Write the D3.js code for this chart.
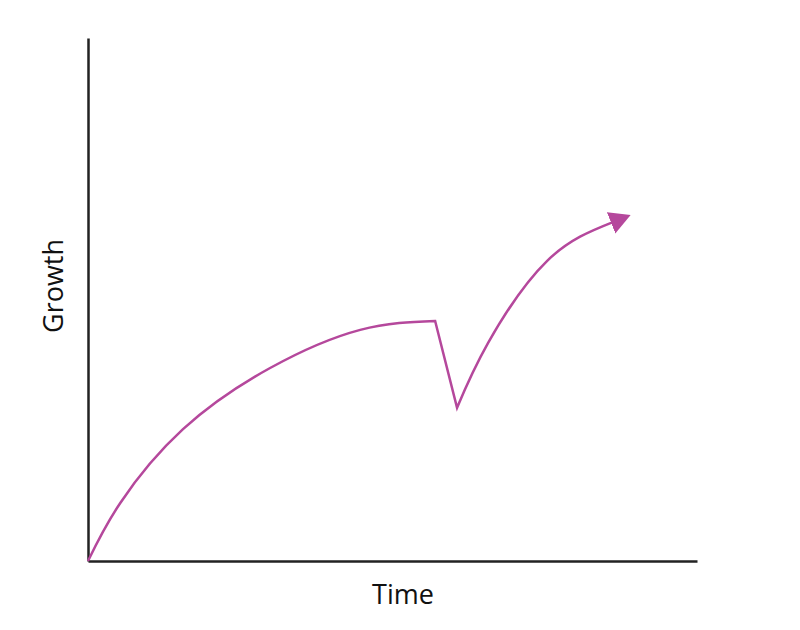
<!DOCTYPE html>
<html>
<head>
<meta charset="utf-8">
<script src="https://cdn.jsdelivr.net/npm/d3@7"></script>
<style>
  html, body { margin: 0; padding: 0; background: #fff; }
  svg { display: block; }
</style>
</head>
<body>
<svg id="chart" width="800" height="630"></svg>
<script>
// Data (time, growth), arbitrary units 0..100
const time   = [0, 5.3, 15.6, 29.9, 44.7, 57.0, 60.6, 65.7, 75.4, 86.2];
const growth = [0, 11.1, 25.2, 36.9, 44.2, 45.9, 29.3, 41.7, 57.4, 64.8];
// indices where the curve has sharp corners (peak, trough)
const corners = [5, 6];
const xLabel = "Time";
const yLabel = "Growth";

const svg = d3.select("#chart");
const x = d3.scaleLinear().domain([0, 100]).range([88, 697]);
const y = d3.scaleLinear().domain([0, 100]).range([561, 38]);

const pts = time.map((t, i) => [t, growth[i]]);
const seg1 = pts.slice(0, corners[0] + 1);
const seg2 = pts.slice(corners[0], corners[1] + 1);
const seg3 = pts.slice(corners[1]);

const smooth = d3.line().x(d => x(d[0])).y(d => y(d[1])).curve(d3.curveNatural);
const straight = d3.line().x(d => x(d[0])).y(d => y(d[1]));

const color = "#b5489c";

svg.append("defs").append("marker")
  .attr("id", "arrow")
  .attr("markerUnits", "userSpaceOnUse")
  .attr("viewBox", "0 -12 22 24")
  .attr("refX", 2).attr("refY", 0)
  .attr("markerWidth", 22).attr("markerHeight", 24)
  .attr("orient", "auto")
  .append("path")
  .attr("d", "M0,-11.5L21,0L0,11.5Z")
  .attr("fill", color);

// axes (no ticks)
const xAxis = d3.axisBottom(x).tickValues([]).tickSizeOuter(0);
const yAxis = d3.axisLeft(y).tickValues([]).tickSizeOuter(0);
svg.append("g").attr("transform", `translate(0,${y(0)})`).call(xAxis)
  .select(".domain").attr("stroke", "#222").attr("stroke-width", 2.5);
svg.append("g").attr("transform", `translate(${x(0)},0)`).call(yAxis)
  .select(".domain").attr("stroke", "#222").attr("stroke-width", 2.5);

const p1 = smooth(seg1);
const p2 = straight(seg2).replace(/^M[^L]*/, "");
const p3 = smooth(seg3).replace(/^M[^LC]*/, "");
svg.append("path")
  .attr("d", p1 + p2 + p3)
  .attr("fill", "none")
  .attr("stroke", color)
  .attr("stroke-width", 2.5)
  .attr("stroke-linejoin", "miter")
  .attr("marker-end", "url(#arrow)");

svg.append("text")
  .attr("x", 403).attr("y", 604)
  .attr("text-anchor", "middle")
  .attr("font-family", "'Open Sans', sans-serif")
  .attr("font-size", 27)
  .attr("fill", "#111")
  .text(xLabel);

svg.append("text")
  .attr("transform", "translate(63,286) rotate(-90)")
  .attr("text-anchor", "middle")
  .attr("font-family", "'Open Sans', sans-serif")
  .attr("font-size", 27)
  .attr("fill", "#111")
  .text(yLabel);
</script>
</body>
</html>
